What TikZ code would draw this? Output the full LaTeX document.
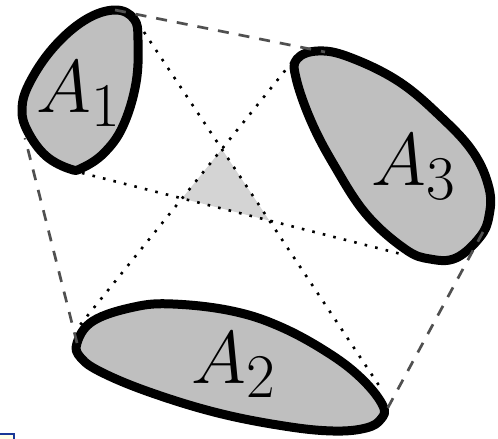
\documentclass[tikz,border=0pt]{standalone}
\usepackage{tikz}
\definecolor{blobfill}{RGB}{191,191,191}
\definecolor{trifill}{RGB}{212,212,212}
\definecolor{hullgray}{RGB}{80,80,80}
\definecolor{boxblue}{RGB}{25,55,150}
\definecolor{boxfill}{RGB}{255,255,232}
\tikzset{
  blob/.style={draw=black, fill=blobfill, line width=9pt, line join=round},
  hull/.style={draw=hullgray, line width=2.7pt, dash pattern=on 11pt off 10pt},
  chord/.style={draw=black, line width=2.6pt, dash pattern=on 2.6pt off 8.2pt},
  core/.style={fill=trifill},
  lab/.style={inner sep=0pt, anchor=base west, font=\Huge, scale=3.0},
}
\begin{document}
\begin{tikzpicture}[x=1pt, y=-1pt]
\useasboundingbox (0,0) rectangle (498,439);
\clip (0,0) rectangle (498,439);

% tangent / chord end points
\coordinate (h1a) at (115,10);
\coordinate (h1b) at (325,52);
\coordinate (h2a) at (483,232);
\coordinate (h2b) at (385,413);
\coordinate (h3a) at (77,343);
\coordinate (h3b) at (25,138);

\coordinate (c1a) at (138,23);
\coordinate (c1b) at (380,387);
\coordinate (c2a) at (82,173);
\coordinate (c2b) at (405,255);
\coordinate (c3a) at (292,62);
\coordinate (c3b) at (80,325);

% inner triangle
\fill[core] (intersection of c1a--c1b and c3a--c3b)
  -- (intersection of c1a--c1b and c2a--c2b)
  -- (intersection of c2a--c2b and c3a--c3b) -- cycle;

% chords
\draw[chord] (c1a) -- (c1b);
\draw[chord] (c2a) -- (c2b);
\draw[chord] (c3a) -- (c3b);

% A1
\draw[blob] plot[smooth cycle, tension=0.65] coordinates {
  (115,10) (134,19) (138,40) (136,83) (123,126) (104,153) (82,168)
  (70,169) (46,156) (28,132) (22,110) (29,84) (53,48) (85,20)};
% A3
\draw[blob] plot[smooth cycle, tension=0.65] coordinates {
  (297,59) (318,51) (349,57) (398,81) (440,116) (473,152) (489,188)
  (489,216) (480,237) (456,258) (430,259) (405,249) (366,214)
  (334,165) (311,121) (296,78)};
% A2
\draw[blob] plot[smooth cycle, tension=0.65] coordinates {
  (77,343) (93,321) (134,307) (173,304) (232,311) (281,327) (330,354)
  (363,380) (383,406) (381,419) (366,428) (333,431) (284,426)
  (218,413) (152,393) (103,373) (81,358)};

% hull
\draw[hull] (h1a) -- (h1b);
\draw[hull] (h2a) -- (h2b);
\draw[hull] (h3a) -- (h3b);

% labels
\node[lab] (a1) at (36,112) {$A_1$};
\node[lab] (a3) at (371,185) {$A_3$};
\node[lab] (a2) at (191,383) {$A_2$};

% cut-off box at the lower left corner
\draw[draw=boxblue, fill=boxfill, line width=2pt] (-6,434) rectangle (14,452);
\end{tikzpicture}
\end{document}
